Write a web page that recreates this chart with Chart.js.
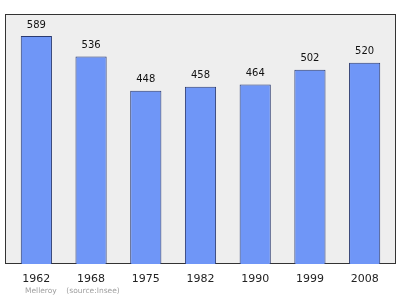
<!DOCTYPE html>
<html><head><meta charset="utf-8">
<script src="https://cdn.jsdelivr.net/npm/chart.js@4"></script>
<style>html,body{margin:0;padding:0;background:#fff}#wrap{width:400px;height:299px}</style>
</head><body><div id="wrap"><canvas id="c"></canvas></div>
<script>
const categories = ["1962","1968","1975","1982","1990","1999","2008"];
const population = [589,536,448,458,464,502,520];
const footerText = "Melleroy    (source:Insee)";

const bgPlugin = {
  id: 'bg',
  beforeDraw(chart) {
    const {ctx, chartArea: a} = chart;
    ctx.save();
    ctx.fillStyle = '#eeeeee';
    ctx.fillRect(a.left - 4, a.top, a.right - a.left + 8, a.bottom - a.top);
    ctx.strokeStyle = '#333333';
    ctx.lineWidth = 1;
    ctx.strokeRect(a.left - 3.5, a.top + 0.5, a.right - a.left + 7, a.bottom - a.top - 1);
    ctx.restore();
  },
  afterDatasetsDraw(chart) {
    const {ctx} = chart;
    const meta = chart.getDatasetMeta(0);
    ctx.save();
    ctx.fillStyle = '#111';
    ctx.font = '10px "DejaVu Sans", sans-serif';
    ctx.textAlign = 'center';
    ctx.textBaseline = 'bottom';
    meta.data.forEach((el, i) => {
      ctx.fillText(String(population[i]), el.x, el.y - 6);
    });
    ctx.fillStyle = '#a0a0a0';
    ctx.font = '7.5px "DejaVu Sans", sans-serif';
    ctx.textAlign = 'left';
    ctx.textBaseline = 'middle';
    ctx.fillText(footerText, 25, 291);
    ctx.restore();
  }
};

new Chart(document.getElementById('c'), {
  type: 'bar',
  data: {
    labels: categories,
    datasets: [{
      data: population,
      backgroundColor: '#6f96f7',
      borderColor: '#2a3a70',
      borderWidth: 1,
      categoryPercentage: 1,
      barPercentage: 0.57
    }]
  },
  options: {
    responsive: true,
    maintainAspectRatio: false,
    animation: false,
    layout: {padding: {left: 9, right: 8, top: 14, bottom: 0}},
    plugins: {legend: {display: false}, tooltip: {enabled: false}},
    scales: {
      x: {
        grid: {display: false, drawTicks: false},
        border: {display: false},
        ticks: {color: '#222', font: {family: '"DejaVu Sans", sans-serif', size: 11}, padding: 9},
        afterFit(s) { s.height = 35; }
      },
      y: {
        display: false,
        min: 0,
        max: 646
      }
    }
  },
  plugins: [bgPlugin]
});
</script></body></html>
